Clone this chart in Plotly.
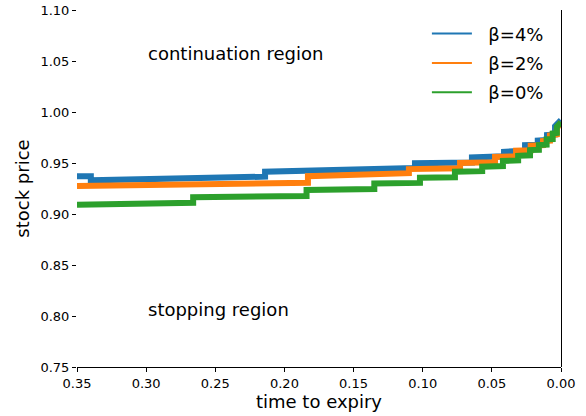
import plotly.graph_objects as go

# time to expiry (x) and boundary stock price (y) for each series; repeated
# times mark the vertical jumps of the step-shaped exercise boundary
t_b4 = [0.35, 0.340, 0.340, 0.214, 0.214, 0.1056, 0.1056, 0.0644, 0.0644, 0.0412, 0.0412, 0.026, 0.026, 0.0168, 0.0168, 0.0101, 0.0101, 0.0043, 0.0043, 0.0]
p_b4 = [0.937, 0.937, 0.933, 0.9366, 0.9415, 0.945, 0.9497, 0.9505, 0.9555, 0.9565, 0.961, 0.962, 0.9676, 0.968, 0.972, 0.9725, 0.9775, 0.978, 0.986, 0.992]

t_b2 = [0.35, 0.183, 0.183, 0.110, 0.110, 0.073, 0.073, 0.0477, 0.0477, 0.0325, 0.0325, 0.0219, 0.0219, 0.013, 0.013, 0.008, 0.008, 0.003, 0.003, 0.0]
p_b2 = [0.9275, 0.9307, 0.937, 0.940, 0.944, 0.9448, 0.950, 0.9508, 0.956, 0.9565, 0.962, 0.9625, 0.967, 0.9675, 0.9716, 0.972, 0.977, 0.978, 0.984, 0.99]

t_b0 = [0.35, 0.266, 0.266, 0.184, 0.184, 0.135, 0.135, 0.102, 0.102, 0.0767, 0.0767, 0.057, 0.057, 0.042, 0.042, 0.031, 0.031, 0.0224, 0.0224, 0.016, 0.016, 0.0104, 0.0104, 0.006, 0.006, 0.003, 0.003, 0.0]
p_b0 = [0.909, 0.911, 0.9164, 0.9177, 0.9235, 0.9245, 0.930, 0.9305, 0.9356, 0.936, 0.9415, 0.942, 0.9464, 0.947, 0.952, 0.9525, 0.957, 0.9575, 0.9627, 0.963, 0.9676, 0.968, 0.9732, 0.9735, 0.979, 0.9795, 0.9856, 0.99]

series = [
    ("β=4%", t_b4, p_b4, "#1f77b4"),
    ("β=2%", t_b2, p_b2, "#ff7f0e"),
    ("β=0%", t_b0, p_b0, "#2ca02c"),
]

x_ticks = [0.35, 0.30, 0.25, 0.20, 0.15, 0.10, 0.05, 0.00]
y_ticks = [0.75, 0.80, 0.85, 0.90, 0.95, 1.00, 1.05, 1.10]

font = "DejaVu Sans, Liberation Sans, sans-serif"

fig = go.Figure()
for name, t, p, c in series:
    fig.add_trace(go.Scatter(x=t, y=p, mode="lines", name=name, showlegend=False,
                             line=dict(color=c, width=6)))
# legend entries with thin line samples
for name, t, p, c in series:
    fig.add_trace(go.Scatter(x=[None], y=[None], mode="lines",
                             name="\u00a0\u00a0" + name,
                             legendgroup=name, line=dict(color=c, width=2)))

fig.add_annotation(x=0.30, y=1.057, text="continuation region", showarrow=False,
                   xanchor="left", yanchor="middle", font=dict(size=18, color="black"))
fig.add_annotation(x=0.30, y=0.806, text="stopping region", showarrow=False,
                   xanchor="left", yanchor="middle", font=dict(size=18, color="black"))

fig.update_layout(
    width=586, height=416,
    margin=dict(l=77, r=25, t=10, b=49),
    paper_bgcolor="white", plot_bgcolor="white",
    font=dict(family=font, size=13, color="black"),
    legend=dict(x=0.975, y=0.985, xanchor="right", yanchor="top",
                bgcolor="rgba(0,0,0,0)", font=dict(size=18), itemwidth=40,
                tracegroupgap=3),
    showlegend=True,
)
fig.update_xaxes(
    range=[0.35, 0.0], tickvals=x_ticks, tickformat=".2f", automargin=False,
    showgrid=False, showline=True, linecolor="black", linewidth=1,
    ticks="outside", ticklen=4, tickcolor="black",
    zeroline=True, zerolinecolor="black", zerolinewidth=1,
    title=dict(text="time to expiry", font=dict(size=18), standoff=5),
)
fig.update_yaxes(
    range=[0.75, 1.10], tickvals=y_ticks, tickformat=".2f", automargin=False,
    showgrid=False, showline=False, zeroline=False, ticklabeloverflow="allow",
    ticks="outside", ticklen=4, tickcolor="black",
    title=dict(text="stock price", font=dict(size=18), standoff=6),
)

fig.write_html("out.html", config={"displayModeBar": False},
               post_script="document.body.style.margin='0px';")
